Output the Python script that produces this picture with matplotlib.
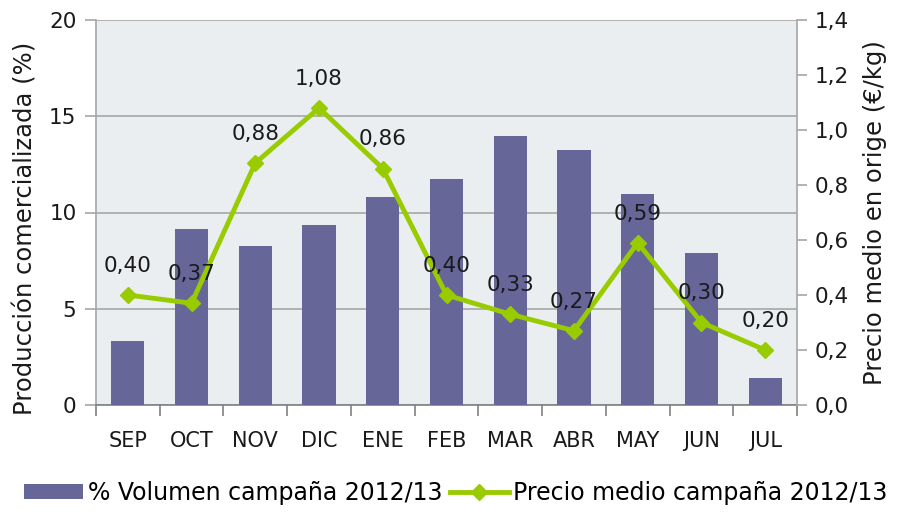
import matplotlib
matplotlib.use("Agg")
import matplotlib.pyplot as plt
import numpy as np

months = ["SEP", "OCT", "NOV", "DIC", "ENE", "FEB", "MAR", "ABR", "MAY", "JUN", "JUL"]
volumen = [3.3, 9.15, 8.25, 9.35, 10.8, 11.75, 14.0, 13.25, 10.95, 7.9, 1.4]
precio = [0.40, 0.37, 0.88, 1.08, 0.86, 0.40, 0.33, 0.27, 0.59, 0.30, 0.20]
precio_labels = ["0,40", "0,37", "0,88", "1,08", "0,86", "0,40", "0,33", "0,27", "0,59", "0,30", "0,20"]

plt.rcParams['font.family'] = ['DejaVu Sans']
plt.rcParams['font.size'] = 15

bar_color = "#666699"
line_color = "#99cc00"
text_color = "#1a1a1a"

fig = plt.figure(figsize=(9.12, 5.13), dpi=100)
ax = fig.add_axes([96/912, 1-405/513, (797-96)/912, (405-20)/513])
ax.set_facecolor("#ebeef0")

x = np.arange(len(months))
bars = ax.bar(x, volumen, width=0.52, color=bar_color, zorder=3,
              label="% Volumen campaña 2012/13")
ax.set_xlim(-0.5, len(months)-0.5)
ax.set_ylim(0, 20)
ax.set_yticks([0, 5, 10, 15, 20])
ax.set_yticklabels(["0", "5", "10", "15", "20"])
ax.yaxis.grid(True, color="#a6a6a6", linewidth=1.2, zorder=1)
ax.set_xticks(x)
ax.set_xticklabels(months)
ax.set_xticks(np.arange(-0.5, len(months), 1), minor=True)
ax.tick_params(axis='x', which='major', length=0, pad=19, colors=text_color, labelsize=15)
ax.tick_params(axis='x', which='minor', length=8, width=1.2, color="#808080")
ax.tick_params(axis='y', length=8, width=1.2, color="#a6a6a6", colors=text_color, pad=6, labelsize=15.5)
for s in ["top", "right"]:
    ax.spines[s].set_visible(False)
ax.spines["left"].set_color("#a6a6a6")
ax.spines["left"].set_linewidth(1.2)
ax.spines["bottom"].set_color("#808080")
ax.spines["bottom"].set_linewidth(1.2)
ax.set_ylabel("Producción comercializada (%)", color=text_color, fontsize=17.5)
ax.yaxis.set_label_coords(-0.084, 0.46)

ax2 = ax.twinx()
line, = ax2.plot(x, precio, color=line_color, linewidth=3.5, marker="D", markersize=8,
                 zorder=4, label="Precio medio campaña 2012/13")
ax2.set_ylim(0, 1.4)
ticks2 = [0, 0.2, 0.4, 0.6, 0.8, 1.0, 1.2, 1.4]
ax2.set_yticks(ticks2)
ax2.set_yticklabels([f"{t:.1f}".replace(".", ",") for t in ticks2])
ax2.tick_params(axis='y', length=7, width=1.2, color="#a6a6a6", colors=text_color, pad=6, labelsize=15.5)
for s in ["top", "left", "bottom"]:
    ax2.spines[s].set_visible(False)
ax2.spines["right"].set_color("#a6a6a6")
ax2.spines["right"].set_linewidth(1.2)
ax2.set_ylabel("Precio medio en orige (€/kg)", color=text_color, fontsize=17.5, labelpad=10)

for xi, p, lab in zip(x, precio, precio_labels):
    ax2.annotate(lab, (xi, p), xytext=(0, 21), textcoords="offset points",
                 ha="center", va="center", fontsize=15.5, color=text_color, zorder=5)

fig.legend([bars, line], ["% Volumen campaña 2012/13", "Precio medio campaña 2012/13"],
           loc="center", bbox_to_anchor=(0.5, 1-493/513), ncol=2, frameon=False,
           fontsize=17, handlelength=2.5, handleheight=0.6, handletextpad=0.2, columnspacing=0.3)

fig.savefig("out.png", dpi=100)
